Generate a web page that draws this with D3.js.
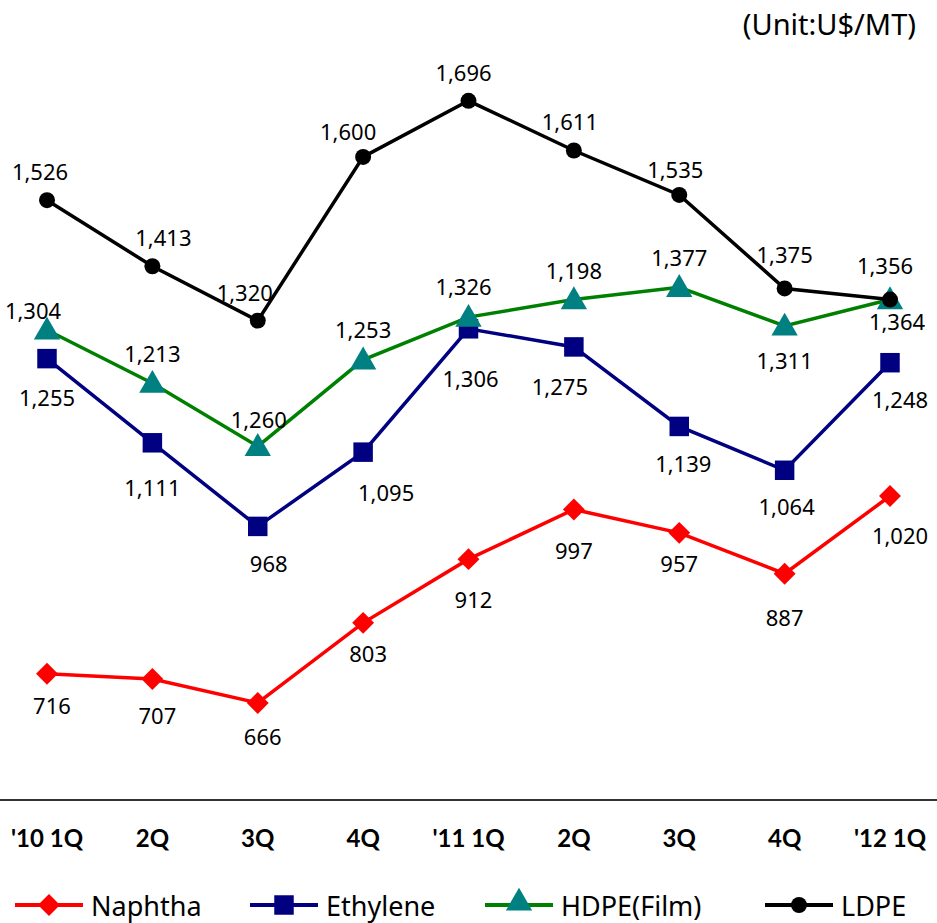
<html>
<head>
<meta charset="utf-8">
<style>
  body { margin: 0; background: #fff; }
  text { font-family: "Noto Sans", "Open Sans", sans-serif; }
</style>
</head>
<body>
<script src="https://cdn.jsdelivr.net/npm/d3@7"></script>
<script>
var quarters = ["'10 1Q", "2Q", "3Q", "4Q", "'11 1Q", "2Q", "3Q", "4Q", "'12 1Q"];

// plotted values
var naphtha  = [716, 707, 666, 803, 912, 997, 957, 887, 1020];
var ethylene = [1255, 1111, 968, 1095, 1306, 1275, 1139, 1064, 1248];
var hdpe     = [1304, 1213, 1105, 1253, 1326, 1356, 1377, 1311, 1356];
var ldpe     = [1526, 1413, 1320, 1600, 1696, 1611, 1535, 1375, 1356];

// data labels as printed on the chart (two HDPE labels differ from the plotted point)
var naphthaLabels  = ["716", "707", "666", "803", "912", "997", "957", "887", "1,020"];
var ethyleneLabels = ["1,255", "1,111", "968", "1,095", "1,306", "1,275", "1,139", "1,064", "1,248"];
var hdpeLabels     = ["1,304", "1,213", "1,260", "1,253", "1,326", "1,198", "1,377", "1,311", "1,364"];
var ldpeLabels     = ["1,526", "1,413", "1,320", "1,600", "1,696", "1,611", "1,535", "1,375", "1,356"];

var width = 937, height = 923;
var svg = d3.select("body").append("svg")
    .attr("width", width)
    .attr("height", height);

var x = d3.scalePoint().domain(d3.range(quarters.length)).range([47, 890]);
var y = d3.scaleLinear().domain([500, 1800]).range([800, 40]);

var series = [
  {name: "Naphtha",    vals: naphtha,  labels: naphthaLabels,  line: "#ff0000", fill: "#ff0000", shape: d3.symbolSquare,   rot: 45, size: 240, dy: [32,37,34,31,41,42,31,44,40], dx: [5,5,5,5,5,0,0,0,10]},
  {name: "Ethylene",   vals: ethylene, labels: ethyleneLabels, line: "#000080", fill: "#000080", shape: d3.symbolSquare,   rot: 0,  size: 380, dy: [39,45,38,41,50,40,38,37,37], dx: [0,0,11,23,2,-14,4,2,10]},
  {name: "HDPE(Film)", vals: hdpe,     labels: hdpeLabels,     line: "#008000", fill: "#008080", shape: d3.symbolTriangle, rot: 0,  size: 300, dy: [-19,-29,-26,-30,-30,-29,-29,35,22], dx: [-14,0,1,0,-5,0,0,0,7]},
  {name: "LDPE",       vals: ldpe,     labels: ldpeLabels,     line: "#000000", fill: "#000000", shape: d3.symbolCircle,   rot: 0,  size: 200, dy: [-28,-28,-28,-25,-28,-28,-25,-33,-34], dx: [-7,11,-13,-15,-5,-4,-4,0,-5]}
];

// axis line
svg.append("line")
    .attr("x1", 0).attr("x2", width)
    .attr("y1", 800).attr("y2", 800)
    .attr("stroke", "#333").attr("stroke-width", 2);

// category labels
svg.selectAll(".tick").data(quarters).join("text")
    .attr("x", (d, i) => x(i))
    .attr("y", 847)
    .attr("text-anchor", "middle")
    .style("font-family", "Lato, sans-serif")
    .style("font-weight", "bold")
    .style("font-size", "24px")
    .text(d => d);

// unit
svg.append("text")
    .attr("x", 916).attr("y", 35)
    .attr("text-anchor", "end")
    .style("font-size", "29px")
    .text("(Unit:U$/MT)");

var line = d3.line().x((d, i) => x(i)).y(d => y(d));

series.forEach(function(s) {
  var g = svg.append("g");
  g.append("path")
      .attr("d", line(s.vals))
      .attr("fill", "none")
      .attr("stroke", s.line)
      .attr("stroke-width", 3.5);
  g.selectAll("path.m").data(s.vals).join("path")
      .attr("class", "m")
      .attr("d", d3.symbol().type(s.shape).size(s.size))
      .attr("transform", (d, i) => "translate(" + x(i) + "," + (y(d) + (s.shape === d3.symbolTriangle ? 2 : 0)) + ") rotate(" + s.rot + ")")
      .attr("fill", s.fill);
});

series.forEach(function(s) {
  svg.append("g").selectAll("text").data(s.vals).join("text")
      .attr("x", (d, i) => x(i) + s.dx[i])
      .attr("y", (d, i) => y(d) + s.dy[i] + 8)
      .attr("text-anchor", "middle")
      .style("font-size", "22px")
      .text((d, i) => s.labels[i]);
});

// legend
var legendX = [5, 240, 475, 755];
series.forEach(function(s, i) {
  var g = svg.append("g").attr("transform", "translate(" + legendX[i] + ",905)");
  g.append("line").attr("x1", 10).attr("x2", 78).attr("y1", 0).attr("y2", 0)
      .attr("stroke", s.line).attr("stroke-width", 4);
  g.append("path")
      .attr("d", d3.symbol().type(s.shape).size(s.size))
      .attr("transform", "translate(44," + (s.shape === d3.symbolTriangle ? -2 : 0) + ") rotate(" + s.rot + ")")
      .attr("fill", s.fill);
  g.append("text")
      .attr("x", 86).attr("y", 11)
      .style("font-size", "27px")
      .text(s.name);
});
</script>
</body>
</html>
